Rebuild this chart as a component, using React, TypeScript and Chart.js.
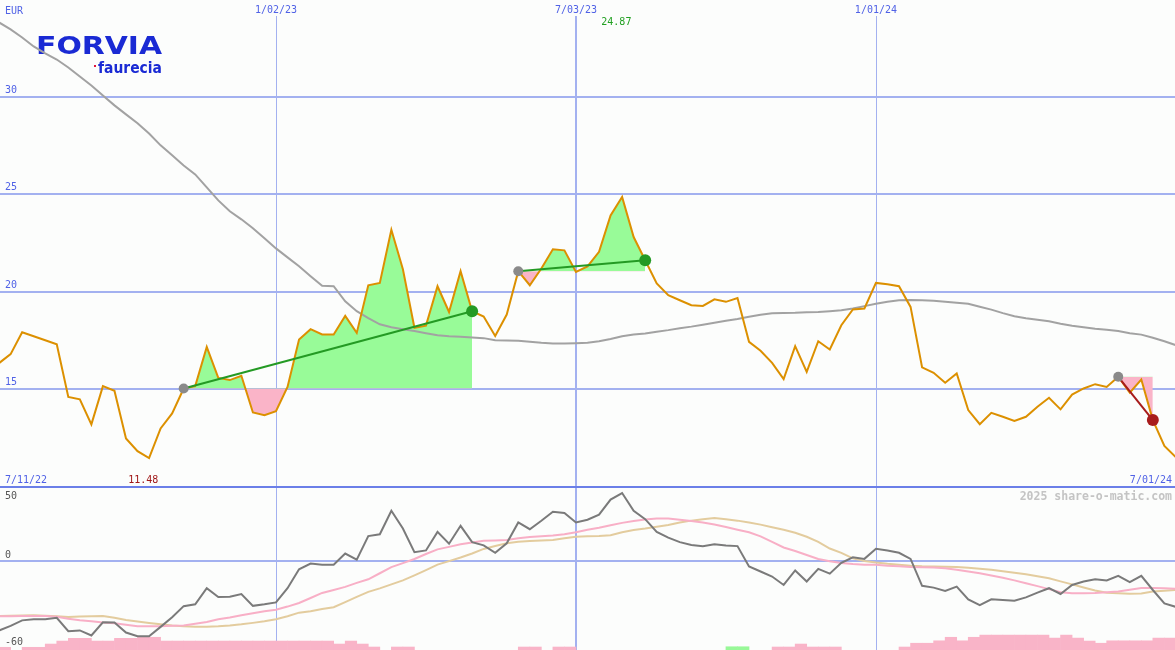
import React, { useEffect, useRef } from 'react';
import { Chart, registerables } from 'chart.js';

Chart.register(...registerables);

// ---- data (weekly closes, week 1 .. week 103) ----
const PRICE = [
  16.35, 16.81, 17.93, 17.73, 17.52, 17.32, 14.62, 14.49, 13.21, 15.17,
  14.93, 12.49, 11.84, 11.48, 13.0, 13.77, 15.05, 15.17, 17.18, 15.59,
  15.48, 15.7, 13.82, 13.68, 13.89, 15.13, 17.56, 18.09, 17.82, 17.82,
  18.77, 17.9, 20.34, 20.46, 23.18, 21.16, 18.16, 18.27, 20.29, 18.97,
  21.06, 19.01, 18.74, 17.74, 18.84, 21.06, 20.34, 21.2, 22.18, 22.13,
  21.02, 21.31, 22.05, 23.92, 24.87, 22.81, 21.62, 20.43, 19.83, 19.57,
  19.32, 19.28, 19.62, 19.49, 19.69, 17.44, 16.98, 16.36, 15.53, 17.22,
  15.9, 17.47, 17.05, 18.29, 19.1, 19.15, 20.46, 20.39, 20.29, 19.23,
  16.13, 15.85, 15.34, 15.82, 13.94, 13.22, 13.8, 13.6, 13.38, 13.6,
  14.11, 14.57, 13.98, 14.74, 15.05, 15.27, 15.13, 15.65, 14.83, 15.51,
  13.43, 12.1, 11.52,
];

const MOVING_AVG = [
  33.81, 33.45, 33.04, 32.58, 32.22, 31.91, 31.5, 31.04, 30.58, 30.07,
  29.56, 29.1, 28.64, 28.12, 27.51, 27.0, 26.48, 26.02, 25.36, 24.69,
  24.13, 23.72, 23.26, 22.75, 22.23, 21.77, 21.31, 20.8, 20.31, 20.29,
  19.52, 19.01, 18.65, 18.34, 18.19, 18.09, 17.99, 17.88, 17.78, 17.73,
  17.7, 17.66, 17.63, 17.52, 17.51, 17.49, 17.45, 17.39, 17.36, 17.36,
  17.37, 17.39, 17.47, 17.59, 17.73, 17.81, 17.87, 17.96, 18.04, 18.14,
  18.22, 18.32, 18.42, 18.52, 18.61, 18.73, 18.83, 18.91, 18.92, 18.93,
  18.96, 18.97, 19.01, 19.06, 19.15, 19.27, 19.39, 19.5, 19.57, 19.59,
  19.57, 19.55, 19.5, 19.44, 19.39, 19.24, 19.09, 18.91, 18.75, 18.65,
  18.57, 18.5, 18.37, 18.27, 18.19, 18.11, 18.06, 17.99, 17.88, 17.81,
  17.65, 17.47, 17.27,
];

const OSC_MAIN = [
  -46.8, -43.7, -40.0, -39.3, -39.3, -38.3, -47.3, -46.8, -50.2, -41.3,
  -41.5, -48.2, -50.7, -50.7, -44.4, -37.9, -30.4, -29.2, -18.3, -24.2,
  -24.0, -22.2, -30.2, -29.2, -27.9, -18.3, -5.5, -1.7, -2.4, -2.4,
  5.1, 1.0, 16.9, 18.1, 34.0, 22.0, 6.0, 7.2, 19.7, 11.7,
  23.8, 12.8, 10.6, 5.6, 12.0, 26.1, 21.5, 27.2, 33.3, 32.4,
  26.1, 27.9, 31.3, 41.5, 45.9, 34.0, 28.3, 19.7, 15.8, 12.8,
  10.8, 10.1, 11.3, 10.6, 10.1, -3.6, -7.0, -10.4, -16.1, -6.3,
  -13.8, -5.3, -8.5, -1.2, 2.6, 1.5, 8.3, 7.2, 5.6, 1.5,
  -16.7, -17.9, -20.2, -17.2, -25.8, -29.7, -25.8, -26.3, -26.8, -24.5,
  -21.3, -18.3, -22.2, -16.1, -13.8, -12.2, -13.1, -9.9, -14.2, -9.9,
  -19.5, -28.6, -30.9,
];

const OSC_FAST = [
  -37.2, -37.2, -37.1, -37.0, -37.0, -37.6, -38.9, -40.0, -40.6, -41.5,
  -42.0, -43.0, -43.9, -43.9, -43.9, -43.6, -43.4, -42.3, -41.1, -39.3,
  -38.1, -36.5, -35.2, -33.8, -32.8, -30.7, -28.3, -24.9, -21.5, -19.5,
  -17.4, -14.7, -12.3, -8.2, -4.1, -1.4, 1.4, 4.8, 7.9, 9.6,
  11.3, 12.6, 13.7, 13.9, 14.2, 15.4, 16.3, 16.7, 17.2, 18.1,
  19.5, 21.2, 22.5, 24.2, 25.8, 27.0, 28.0, 28.7, 28.7, 27.9,
  27.1, 26.1, 24.7, 23.0, 21.2, 19.5, 16.7, 13.0, 9.2, 6.8,
  4.1, 1.4, -0.1, -1.3, -2.0, -2.5, -2.5, -3.1, -3.4, -4.0,
  -4.2, -4.4, -4.8, -5.8, -7.0, -8.2, -9.7, -11.3, -13.0, -15.0,
  -16.9, -18.9, -21.0, -21.7, -21.7, -21.6, -21.0, -20.5, -19.3, -18.1,
  -18.2, -18.4, -18.6,
];

const OSC_SLOW = [
  -37.0, -36.9, -36.7, -36.5, -36.9, -37.2, -37.7, -37.4, -37.2, -37.0,
  -38.3, -39.8, -40.8, -41.7, -42.6, -43.4, -43.9, -44.3, -44.3, -44.0,
  -43.5, -42.7, -41.7, -40.6, -39.3, -37.2, -34.8, -33.8, -32.4, -31.1,
  -27.7, -24.2, -20.8, -18.4, -15.7, -13.0, -9.6, -6.1, -2.4, 0.0,
  2.4, 5.1, 8.2, 10.2, 12.0, 13.1, 13.5, 13.9, 14.2, 15.4,
  16.4, 16.7, 16.9, 17.4, 19.5, 21.0, 22.0, 23.2, 24.4, 26.0,
  27.3, 28.3, 29.0, 28.3, 27.3, 26.0, 24.6, 22.9, 21.2, 19.1,
  16.4, 13.0, 8.5, 5.5, 1.8, 0.0, -1.0, -1.8, -2.4, -3.2,
  -3.5, -3.6, -3.8, -4.0, -4.5, -5.1, -5.8, -6.8, -7.9, -8.9,
  -10.2, -11.6, -13.7, -15.7, -17.8, -19.8, -21.3, -21.7, -22.1, -21.9,
  -20.6, -20.0, -19.5,
];

const VOLUME = [
  1.0, 0, 1.0, 1.0, 2.2, 3.3, 4.3, 4.3, 3.3, 3.3,
  4.3, 4.3, 4.7, 4.7, 3.3, 3.3, 3.3, 3.3, 3.3, 3.3,
  3.3, 3.3, 3.3, 3.3, 3.3, 3.3, 3.3, 3.3, 3.3, 2.2,
  3.3, 2.2, 1.1, 0, 1.1, 1.1, 0, 0, 0, 0,
  0, 0, 0, 0, 0, 1.1, 1.1, 0, 1.1, 1.1,
  0, 0, 0, 0, 0, 0, 0, 0, 0, 0,
  0, 0, 0, 1.2, 1.2, 0, 0, 1.1, 1.1, 2.2,
  1.1, 1.1, 1.1, 0, 0, 0, 0, 0, 1.1, 2.5,
  2.5, 3.4, 4.7, 3.4, 4.7, 5.5, 5.5, 5.5, 5.5, 5.5,
  5.5, 4.4, 5.5, 4.4, 3.3, 2.5, 3.4, 3.4, 3.4, 3.4,
  4.4, 4.4, 4.4,
];
const VOLUME_UP_WEEKS = [64, 65];

const DATE_TICKS = [
  { week: 25, label: '1/02/23', width: 1 },
  { week: 51, label: '7/03/23', width: 2 },
  { week: 77, label: '1/01/24', width: 1 },
];
const START_LABEL = '7/11/22';
const END_LABEL = '7/01/24';
const PRICE_GRID = [15, 20, 25, 30];
const OSC_LABELS = [50, 0, -60];
const CURRENCY = 'EUR';

const TRADES = [
  { from: 17, to: 42 },
  { from: 46, to: 57 },
  { from: 98, to: 101 },
];

const X_MIN = 1.08;
const X_MAX = 102.92;
const PRICE_MIN = 10;
const PRICE_MAX = 34.96;
const OSC_MIN = -60;
const OSC_MAX = 50;

// ---- styles ----
const BG = '#fcfdfc';
const GRID = '#a3b1f0';
const SEPARATOR = '#6b7fe8';
const LABEL_BLUE = '#5062e6';
const ORANGE = '#dc9000';
const MA_GRAY = '#a2a2a2';
const FILL_GREEN = '#98fb98';
const FILL_PINK = '#fab4c8';
const TREND_GREEN = '#249a24';
const TREND_RED = '#a81c1c';
const MONO = '"DejaVu Sans Mono", monospace';

const toPoints = (arr: number[], offset = 0) =>
  arr.map((v, i) => ({ x: i + 1 + offset, y: v }));

export default function App() {
  const ref = useRef<HTMLCanvasElement | null>(null);

  useEffect(() => {
    document.body.style.margin = '0';
    const canvas = ref.current;
    if (!canvas) return;

    const datasets: any[] = [];

    TRADES.forEach((t) => {
      const base = PRICE[t.from - 1];
      const end = PRICE[t.to - 1];
      const seg: { x: number; y: number }[] = [];
      for (let w = t.from; w <= t.to; w++) seg.push({ x: w, y: PRICE[w - 1] });
      datasets.push({
        type: 'line',
        data: seg,
        yAxisID: 'y',
        borderWidth: 0,
        borderColor: 'rgba(0,0,0,0)',
        pointRadius: 0,
        tension: 0,
        fill: { target: { value: base }, above: FILL_GREEN, below: FILL_PINK },
        order: 20,
      });
      const win = end >= base;
      datasets.push({
        type: 'line',
        data: [
          { x: t.from, y: base },
          { x: t.to, y: end },
        ],
        yAxisID: 'y',
        borderColor: win ? TREND_GREEN : TREND_RED,
        borderWidth: 2,
        pointRadius: [5, 6],
        pointBackgroundColor: ['#8a8a8a', win ? TREND_GREEN : TREND_RED],
        pointBorderWidth: 0,
        fill: false,
        order: 1,
      });
    });

    datasets.push({
      type: 'line',
      data: toPoints(MOVING_AVG),
      yAxisID: 'y',
      borderColor: MA_GRAY,
      borderWidth: 2,
      pointRadius: 0,
      fill: false,
      order: 8,
    });
    datasets.push({
      type: 'line',
      data: toPoints(PRICE),
      yAxisID: 'y',
      borderColor: ORANGE,
      borderWidth: 2,
      pointRadius: 0,
      fill: false,
      order: 2,
    });

    datasets.push({
      type: 'bar',
      data: VOLUME.map((v, i) => ({ x: i + 1.5, y: v > 0 ? v : null })),
      yAxisID: 'yv',
      backgroundColor: VOLUME.map((_, i) =>
        VOLUME_UP_WEEKS.includes(i + 1) ? '#98f898' : '#f9b4c8'
      ),
      borderWidth: 0,
      barPercentage: 1,
      categoryPercentage: 1,
      grouped: false,
      order: 15,
    });
    datasets.push({
      type: 'line',
      data: toPoints(OSC_SLOW),
      yAxisID: 'y2',
      borderColor: '#e3cc9e',
      borderWidth: 2,
      pointRadius: 0,
      fill: false,
      order: 7,
    });
    datasets.push({
      type: 'line',
      data: toPoints(OSC_FAST),
      yAxisID: 'y2',
      borderColor: '#f8afc6',
      borderWidth: 2,
      pointRadius: 0,
      fill: false,
      order: 6,
    });
    datasets.push({
      type: 'line',
      data: toPoints(OSC_MAIN),
      yAxisID: 'y2',
      borderColor: '#7a7a7a',
      borderWidth: 2,
      pointRadius: 0,
      fill: false,
      order: 5,
    });

    const decor = {
      id: 'decor',
      beforeDraw(chart: any) {
        const { ctx, width, height } = chart;
        ctx.save();
        ctx.fillStyle = BG;
        ctx.fillRect(0, 0, width, height);
        ctx.restore();
      },
      beforeDatasetsDraw(chart: any) {
        const { ctx, width, height } = chart;
        const xs = chart.scales.x;
        const ys = chart.scales.y;
        const y2 = chart.scales.y2;
        ctx.save();
        // logo
        ctx.fillStyle = '#1a2ad4';
        ctx.textBaseline = 'alphabetic';
        ctx.textAlign = 'left';
        ctx.font = 'bold 24px "DejaVu Sans"';
        const fw = ctx.measureText('FORVIA').width;
        ctx.save();
        ctx.translate(36, 54);
        ctx.scale(126 / fw, 1);
        ctx.fillText('FORVIA', 0, 0);
        ctx.restore();
        ctx.font = 'bold 15px "DejaVu Sans"';
        const aw = ctx.measureText('faurecia').width;
        ctx.save();
        ctx.translate(98, 73);
        ctx.scale(64 / aw, 1);
        ctx.fillText('faurecia', 0, 0);
        ctx.restore();
        ctx.fillStyle = '#e0143c';
        ctx.fillRect(94, 65, 2, 2);

        // watermark
        ctx.fillStyle = '#c4c4c4';
        ctx.font = 'bold 11.5px ' + MONO;
        ctx.textAlign = 'right';
        ctx.fillText('2025 share-o-matic.com', 1172, 500);

        // horizontal grid
        ctx.strokeStyle = GRID;
        ctx.lineWidth = 2;
        PRICE_GRID.forEach((v) => {
          const py = Math.round(ys.getPixelForValue(v));
          ctx.beginPath();
          ctx.moveTo(0, py);
          ctx.lineTo(width, py);
          ctx.stroke();
        });
        const p0 = Math.round(y2.getPixelForValue(0));
        ctx.beginPath();
        ctx.moveTo(0, p0);
        ctx.lineTo(width, p0);
        ctx.stroke();

        // vertical grid
        DATE_TICKS.forEach((t) => {
          const px = Math.round(xs.getPixelForValue(t.week)) + (t.width === 1 ? 0.5 : 0);
          ctx.lineWidth = t.width;
          ctx.beginPath();
          ctx.moveTo(px, 16);
          ctx.lineTo(px, height);
          ctx.stroke();
        });

        // panel separator
        ctx.strokeStyle = SEPARATOR;
        ctx.lineWidth = 2;
        const sep = Math.round(ys.getPixelForValue(PRICE_MIN));
        ctx.beginPath();
        ctx.moveTo(0, sep);
        ctx.lineTo(width, sep);
        ctx.stroke();
        ctx.restore();
      },
      afterDatasetsDraw(chart: any) {
        const { ctx, width } = chart;
        const xs = chart.scales.x;
        const ys = chart.scales.y;
        const y2 = chart.scales.y2;
        ctx.save();
        ctx.font = '10px ' + MONO;
        ctx.textBaseline = 'alphabetic';
        ctx.fillStyle = LABEL_BLUE;
        ctx.textAlign = 'left';
        ctx.fillText(CURRENCY, 5, 14);
        PRICE_GRID.forEach((v) => {
          ctx.fillText(String(v), 5, Math.round(ys.getPixelForValue(v)) - 4);
        });
        ctx.textAlign = 'center';
        DATE_TICKS.forEach((t) => {
          ctx.fillText(t.label, xs.getPixelForValue(t.week), 13);
        });
        const sep = Math.round(ys.getPixelForValue(PRICE_MIN));
        ctx.textAlign = 'left';
        ctx.fillText(START_LABEL, 5, sep - 4);
        ctx.textAlign = 'right';
        ctx.fillText(END_LABEL, width - 3, sep - 4);

        // min / max
        let iMax = 0;
        let iMin = 0;
        PRICE.forEach((v, i) => {
          if (v > PRICE[iMax]) iMax = i;
          if (v < PRICE[iMin]) iMin = i;
        });
        ctx.textAlign = 'center';
        ctx.fillStyle = '#22a022';
        ctx.fillText(PRICE[iMax].toFixed(2), xs.getPixelForValue(iMax + 0.5), 25);
        ctx.fillStyle = '#a01818';
        ctx.fillText(PRICE[iMin].toFixed(2), xs.getPixelForValue(iMin + 0.5), sep - 4);

        // oscillator labels
        ctx.fillStyle = '#555555';
        ctx.textAlign = 'left';
        ctx.fillText(String(OSC_LABELS[0]), 5, y2.top + 12);
        ctx.fillText(String(OSC_LABELS[1]), 5, Math.round(y2.getPixelForValue(0)) - 3);
        ctx.fillText(String(OSC_LABELS[2]), 5, y2.bottom - 5);
        ctx.restore();
      },
    };

    const chart = new Chart(canvas, {
      type: 'line',
      data: { datasets },
      options: {
        animation: false,
        responsive: false,
        devicePixelRatio: 1,
        events: [],
        layout: { padding: 0, autoPadding: false },
        plugins: { legend: { display: false }, tooltip: { enabled: false } },
        scales: {
          x: { type: 'linear', min: X_MIN, max: X_MAX, display: false, offset: false },
          y: {
            type: 'linear',
            min: PRICE_MIN,
            max: PRICE_MAX,
            display: false,
            stack: 'panels',
            stackWeight: 487,
            weight: 2,
          },
          y2: {
            type: 'linear',
            min: OSC_MIN,
            max: OSC_MAX,
            display: false,
            stack: 'panels',
            stackWeight: 163,
            weight: 1,
          },
          yv: { type: 'linear', min: 0, max: 240, display: false, position: 'right' },
        },
      } as any,
      plugins: [decor],
    } as any);

    return () => chart.destroy();
  }, []);

  return (
    <canvas
      ref={ref}
      width={1175}
      height={650}
      style={{ display: 'block', width: 1175, height: 650 }}
    />
  );
}
